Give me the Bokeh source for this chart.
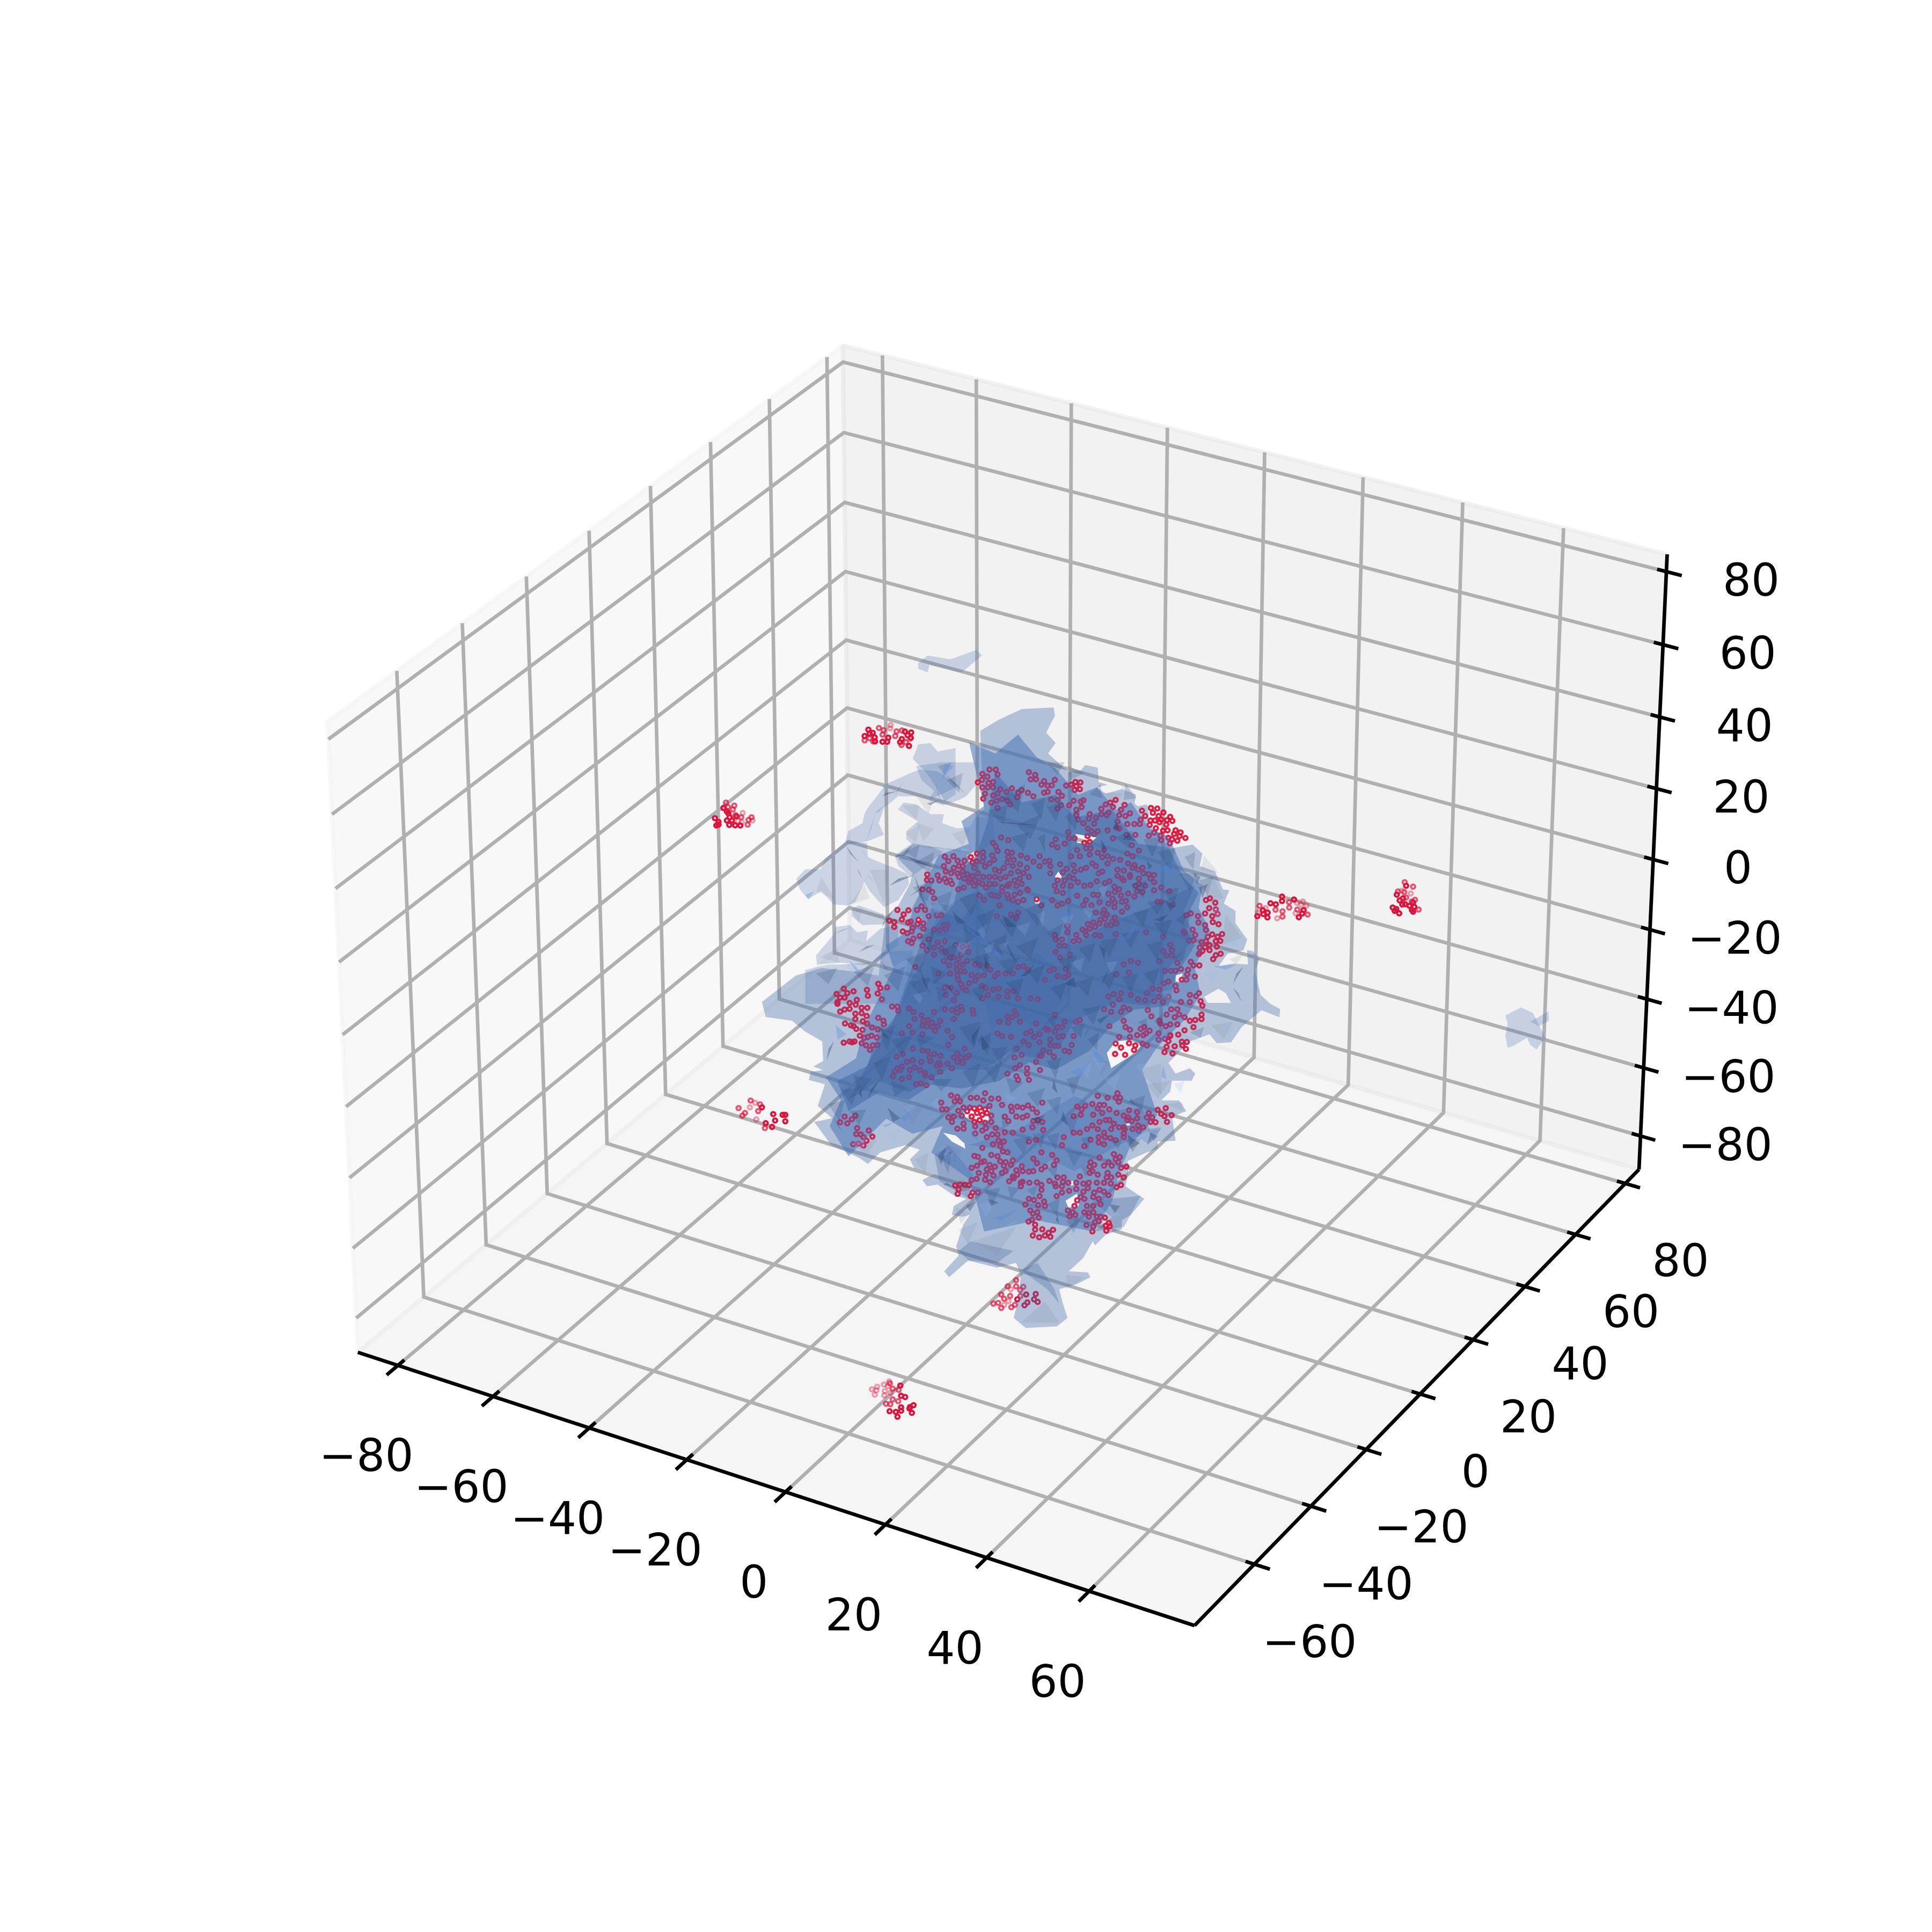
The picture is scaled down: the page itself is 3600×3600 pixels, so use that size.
import numpy as np
from bokeh.plotting import figure
from bokeh.models import Range1d
from bokeh.core.properties import value
from bokeh.embed import file_html
from bokeh.resources import INLINE

# ---- axes values ----
XLIM = (-88.5, 80.3); YLIM = (-80.7, 85.6); ZLIM = (-89.9, 84.7)
XTICKS = [-80, -60, -40, -20, 0, 20, 40, 60]
YTICKS = [-60, -40, -20, 0, 20, 40, 60, 80]
ZTICKS = [-80, -60, -40, -20, 0, 20, 40, 60, 80]
ELEV, AZIM = 30.0, -60.0

# ---- reading frames: values below were read in these frames of the picture ----
FR = dict(A=(1500, 1420, 3, 3), B=(1950, 1420, 3, 3), C=(1500, 1870, 3, 3), D=(1950, 1870, 3, 3),
          Z1=(1300, 1200, 1.4255, 1.4255), Z2=(1500, 2000, 2.24, 2.24), Z3=(1280, 1180, 3, 3), Z4=(2300, 1600, 2.24, 3))

def fr(name, pts):
    x0, y0, sx, sy = FR[name]
    a = np.array(pts, dtype=float).reshape(-1, 2)
    return np.c_[x0 + a[:, 0] / sx, y0 + a[:, 1] / sy]

# ---- red points inside the cloud ----
CLOUD_A = [(990,65),(1018,80),(988,98),(965,112),(1050,110),(1025,115),(990,140),(1020,140),(1050,140),(1090,150),(1125,165),(1155,145),(1190,170),(1210,155),(1005,175),(1050,185),(1075,175),(995,203),(1040,225),(1070,215),(1100,205),(1130,215),(1145,235),(1075,255),(1030,40),(1065,40),(1075,68),(1250,55),(1285,70),(1260,95),(1290,95),(1335,105),(1320,125),(1335,170),(1245,170),(1275,190),(1185,195),
(1095,420),(1135,435),(1050,450),(1065,470),(1075,495),(1130,500),(1155,505),(1135,530),(1205,520),(1165,545),(1240,535),(1310,525),(1275,555),(1240,590),(1200,570),(1310,580),(1340,555),
(780,527),(828,525),(800,552),(852,550),(775,580),(830,590),(890,550),(960,510),(925,530),(958,553),(935,560),(993,502),(995,530),(990,555),(1045,520),(1055,545),(1030,565),(1005,583),(945,590),(880,580),(860,580),(785,610),(815,620),(850,620),(880,610),(905,625),(965,620),(935,635),(740,632),(780,650),(810,660),(750,660),(860,640),(890,650),(920,655),(950,660),(970,670),(820,680),(790,670),(855,710),(885,700),(915,670),(945,690),(990,680),(995,640),(1060,600),(1085,610),(1110,590),(1130,560),(1160,580),(1190,610),(1220,620),(1250,640),(1150,620),(1120,640),(1090,650),(1060,640),(1030,640),(1200,650),(1170,660),(1140,680),(1130,690),(1100,700),(1180,690),(1210,680),(1240,710),(1060,680),(1030,680),(1010,700),(1040,740),(1060,745),(1100,720),(1130,740),(1170,740),(1200,730),(1220,770),(1190,780),(1160,770),(1135,760),(1085,800),(1000,770),(975,745),(1080,750),(1070,860),(1180,870),(1150,850),(1190,840),(1293,765),(1320,800),(1245,715),(682,627),(680,658),(705,660),(655,710),(690,712),(710,725),(720,760),
(515,825),(577,827),(625,825),(550,850),(650,805),(670,825),(690,860),(735,855),(760,855),(470,885),(497,893),(497,920),(540,878),(575,895),(590,890),(633,880),(660,900),(628,905),(600,925),(545,945),(570,955),(595,945),(660,930),(720,935),(752,938),(775,910),(795,910),(785,932),(640,970),(605,985),(575,1000),(595,1010),(655,1025),(690,990),(720,1035),(740,1005),(780,1000),(680,1050),(760,1040),(720,1075),
(840,1020),(880,1030),(900,1020),(910,1060),(870,1075),(785,1060),(810,1090),(830,1090),(855,1100),(775,1110),(905,1110),(880,1130),(805,1135),(845,1130),(850,1160),(870,1165),(810,1180),(850,1190),(745,1180),(890,1170),(950,1130),(975,1135),(1015,1135),(930,1190),(965,1195),(1035,1160),(1077,1180),(1120,1180),(1160,1180),(1000,1190),(1060,1195),(1190,1145),(1245,1160),(1220,1140),(1340,1215),(950,1220),(915,1235),(985,1250),(855,1215),(870,1240),(880,1260),(780,1260),(815,1260),(845,1290),(900,1275),(785,1300),(830,1330),(1010,1260),(1050,1270),(1080,1265),(1130,1280),(1165,1280),(1020,1300),(1080,1310),(1130,1310),(990,1320),(1190,1320),(1260,1320),(1300,1325),(615,1145),
(215,1265),(175,1295),(270,1280),(235,1290),(195,1315),(220,1315),(345,1272),(420,1262),(458,1258),(408,1238),(405,1292),(350,1305),(428,1325),(180,1340),(288,1328),(248,1345)]

CLOUD_B = [(45,98),(28,128),(5,130),(65,165),(85,187),(108,130),(135,125),(160,110),(188,112),(165,133),(155,155),(185,150),(25,207),(60,210),(5,165),(80,240),(60,258),(150,215),(205,212),(190,220),(125,240),(195,250),(240,290),(275,310),(235,315),(205,340),(265,343),(305,260),(330,235),(355,225),(385,210),(370,250),(345,280),(305,290),(335,295),(415,265),(435,238),(465,285),(405,295),(440,300),(165,265),(165,295),(175,320),
(532,270),(582,255),(618,258),(593,282),(652,280),(625,300),(550,300),(640,320),(690,305),(702,327),(672,323),(668,348),(525,320),(580,325),(605,325),(630,335),(575,350),(720,380),(748,392),(712,400),(742,412),(775,423),(730,438),(700,430),(680,422),(688,453),(675,380),(650,382),(635,410),(640,435),(600,393),(610,368),(570,410),
(450,345),(490,345),(520,345),(395,330),(390,365),(340,380),(285,385),(230,370),(250,385),(265,400),(120,390),(155,425),(125,425),(228,412),(210,450),(240,445),(245,480),(220,480),(170,490),(240,515),(285,505),(320,490),(370,425),(405,370),(445,405),(495,405),(475,463),(515,493),(450,510),(480,525),
(50,430),(30,460),(60,475),(100,455),(135,525),(185,525),(15,550),(75,570),(20,580),(110,595),(150,575),(155,610),(125,640),(90,615),(150,650),(190,600),(220,590),(255,565),(275,580),(310,530),(340,525),(370,540),(340,565),(310,610),(290,620),(410,545),(395,600),(430,605),(455,565),(480,590),(490,575),(535,590),(510,600),(570,625),(600,630),(540,620),(465,630),(465,640),(515,650),(580,650),(600,670),(550,690),(515,680),(495,690),(430,660),(395,635),(420,650),(350,665),(325,675),(280,665),(245,685),(210,690),(175,670),(135,690),(100,660),(60,660),(20,620),(45,690),(90,690),(55,720),(90,730),(405,710),(378,695),(380,725),(455,733),(505,720),(535,725),(600,715),(640,700),(685,720),(490,750),(415,745),(345,735),(285,742),(260,740),
(205,797),(250,800),(295,782),(170,745),(220,770),(120,775),(85,790),(30,770),(60,800),(345,790),(380,785),(368,763),(378,810),(420,780),(443,775),(450,810),(420,835),(620,780),(640,780),(705,795),
(890,770),(912,760),(942,785),(908,815),(885,845),(945,822),(955,848),(925,860),(928,893),(960,905),(848,895),(845,860),(805,845),(780,855),(885,910),(890,937),
(765,945),(770,955),(815,935),(830,965),(795,997),(820,995),(900,975),(925,962),(980,960),(955,975),(945,1000),(970,998),(865,1005),(890,1000),(910,1022),(855,1035),(885,1033),(950,1030),(855,1065),(870,1055),(910,1050),(945,1078),(972,1070),(930,1100),(850,1072),
(320,825),(275,840),(315,845),(335,850),(380,868),(325,875),(300,880),(365,890),(390,900),(360,910),(335,910),(295,900),(260,895),(270,920),(230,905),(240,930),(200,935),(215,945),(165,965),(115,950),(115,915),(270,965),(300,970),(385,960),(220,965),(45,965),(85,990),(50,990),(100,1025),(70,1025),(180,995),(150,1000),(130,1075),(50,1060),(75,1090),(555,950),(650,975),
(690,1020),(700,1050),(650,1055),(670,1080),(700,1080),(430,1130),(390,1185),(460,1175),(470,1110),(510,1120),(630,1110),(730,1120),(805,1115),(820,1135),(853,1135),(750,1155),(720,1165),(695,1165),(790,1160),(785,1185),(828,1197),(755,1215),(780,1215),(660,1165),(60,1195),(98,1200),(122,1187),(40,1155),(105,1155),(15,1165),(720,1250),(725,1275),(680,1225),(655,1235),(630,1270),(590,1265),(560,1290),(625,1310),(680,1310),(800,1300),(850,1290),(835,1307),(860,1335),(800,1340),(750,1340),(650,1340),(600,1335),(550,1330),(510,1325),(470,1300),(415,1290),(375,1295),(345,1310),(405,1325)]

CLOUD_C = [(180,0),(195,43),(220,32),(248,28),(282,5),(315,22),(347,22),(280,55),(315,52),(343,68),(222,110),(280,85),(322,97),(345,110),(255,120),(270,125),(373,132),(405,143),(285,140),(320,145),(305,178),(370,178),(350,185),(400,188),(330,190),(215,217),(248,210),(275,210),(262,215),(315,220),(340,232),(378,232),(403,230),(362,257),(408,78),(437,95),(440,115),(485,15),(520,40),(515,15),
(580,25),(605,45),(650,65),(720,45),(660,95),(685,90),(710,105),(655,120),(680,125),(710,130),(740,125),(725,150),(655,170),(610,85),(580,125),(540,165),(600,160),(755,95),(780,30),(820,35),(850,25),(870,15),(935,35),(940,55),(875,35),(830,85),(850,50),(795,150),(820,185),(800,230),(890,250),
(545,280),(510,295),(600,250),(655,260),(685,265),(720,280),(755,290),(695,300),(648,325),(600,315),(570,325),(540,350),(515,360),(500,378),(530,370),(610,355),(585,370),(640,370),(670,385),(705,410),(700,320),(745,330),(755,340),(735,345),(755,380),(820,360),(795,335),(850,280),(830,300),(870,300),(900,300),(915,290),(850,325),(880,330),(620,450),(645,445),(677,455),(540,420),(580,410),(670,400),(490,405),
(1170,40),(1180,60),(1200,100),(1155,75),(1130,70),(1085,100),(1135,105),(1290,110),(1075,165),(1260,155),(1235,165),(1310,170),(1345,140),(1280,185),(1100,180),(1150,185),(1220,210),(1250,230),(1310,215),(1330,260),(1210,285),(1180,250),(1170,300),(1320,290),(1290,325),(1310,290),(1200,342),(1173,360),(1240,360),(1312,370),(1240,390),(1180,405),(1190,425),(1250,425),(1130,390),
(815,512),(850,520),(925,525),(760,552),(765,590),(790,590),(835,545),(865,545),(960,525),(1005,500),(995,540),(1040,530),(1080,530),(1100,565),(855,598),(885,580),(920,580),(945,585),(975,580),(1005,590),(1030,570),(875,625),(905,600),(930,630),(960,610),(990,620),(1015,610),(1040,625),(800,635),(830,630),(820,660),(885,670),(945,660),(975,650),(1005,665),(1040,660),(950,685),(850,698),(885,698),(950,725),(990,708),(1010,695),(1065,695),(1115,718),(1015,745),(1045,730),(1075,730),(1110,770),(1090,795),(1050,785),(1080,765),
(1150,575),(1185,575),(1215,580),(1245,568),(1270,587),(1155,600),(1180,630),(1240,625),(1215,635),(1295,608),(1325,552),(1135,655),(1115,630),(1160,720),(1215,703),(1275,655),(1330,705),(1300,650),(1325,660),(1270,690),(1250,770),(1290,760),
(990,805),(1040,845),(945,850),(965,855),(1075,852),(1105,825),(1130,830),(985,885),(960,905),(930,917),(1000,880),(1030,900),(1060,910),(1090,880),(1120,885),(1160,875),(1110,905),(1150,900),(1275,865),(1320,830),(1295,890),(1340,910),(1320,925),(1040,935),(1015,925),(970,945),(1120,935),(1100,945),(1180,930),(1210,908),(1215,935),(1250,938),(1275,935),(1185,955),(1160,965),(1010,955),(1052,960),(930,985),(958,978),(1005,983),(1033,997),(1140,992),(1165,975),(1205,1000),(1215,995),(1253,1000),(1295,998),(1320,1012),
(838,1015),(865,1010),(893,1012),(915,1013),(857,1037),(852,1062),(935,1055),(965,1055),(925,1075),(1205,1020),(1320,1040),
(1250,1090),(1278,1097),(1310,1075),(1335,1105),(1230,1122),(1302,1125),(1258,1155),(1273,1172),(1297,1165),(1340,1130),(1248,1217),(1268,1207),(1305,1195),(1285,1235),(1325,1260),(1285,1262),(1272,1295),(1308,1305),(1340,1295),
(220,630),(195,662),(235,668),(260,645),(280,625),(290,695),(310,730),(325,745),(342,765),(355,708),(375,742),(268,785),(298,782),(325,792),(285,728)]

CLOUD_D = [(45,60),(100,100),(60,130),(45,155),(85,130),(8,145),(65,185),(90,180),(20,200),(45,235),(65,235),(20,230),(15,270),(140,230),(100,262),(125,268),(40,295),(150,180),(185,90),(165,100),
(320,30),(360,45),(350,125),(405,185),(430,20),(370,5),(460,30),(415,45),(430,95),(465,145),(440,130),(505,175),(525,140),(545,130),(575,150),(555,165),(540,175),(465,185),(460,220),(385,222),(415,245),(382,280),(438,285),(495,233),(488,258),(535,222),(560,232),(585,70),(565,35),(630,95),(635,110),(665,125),(690,115),(730,115),(735,172),(690,175),(660,195),(680,208),(690,180),(625,165),(625,200),(670,240),(658,270),(703,277),(715,237),(755,212),(783,213),(758,232),(778,252),(820,130),(770,148),(830,90),(865,60),(865,85),(800,95),(740,60),(715,75),(670,60),(695,30),(730,30),(770,75),(870,10),
(285,515),(395,500),(385,525),(410,525),(403,547),(340,525),(320,565),(255,560),(170,575),(215,570),(295,565),(285,585),(195,590),(310,610),(350,590),(390,610),(260,620),(190,620),(150,628),(460,595),(505,605),(570,610),(620,593),(665,583),(640,615),(658,628),(698,622),(672,660),(608,662),(580,660),(590,635),(560,635),(505,640),(455,635),(430,625),(450,650),(475,655),(510,680),(540,690),(515,710),(430,690),(480,700),(405,690),(435,700),(430,725),(430,745),(295,660),(255,680),(225,700),(285,700),(330,650),(350,650),(375,670),(360,700),(320,720),(290,745),(325,745),(355,750),(385,762),(245,760),(185,720),(150,720),(95,745),(320,785),(290,775),(210,795),(85,790),
(30,845),(55,875),(40,900),(295,860),(345,885),(375,840),(385,868),(408,857),(400,885),(363,905),(415,917),(445,910),(245,885),(265,900),(320,905),(240,910),(340,945),(255,935),(400,955),(430,970),(360,970),(285,955),(335,970),(240,945),(185,965),(95,970),(60,970),(15,990),(45,1005),(90,995),(120,1000),(165,1000),(50,1020),(85,1020),(205,1005),(235,1000),(280,1000),(320,1000),(358,1005),(415,1013),(390,1025),(125,1045),(55,1075),(85,1055),(165,1035),(205,1050),(265,1055),(295,1040),(320,1050),(230,1030),(345,1070),(190,1080),(210,1090),(170,1098),(225,1130),(155,1130),(260,1080),(290,1090),(260,1130),(300,1120),(118,1155),(145,1165),(160,1180),(128,1188),(210,1165),(235,1170),(260,1165),(235,1190),(280,1190),(300,1190),(325,1195),(270,1220),(290,1215),(222,1237),(260,1245),(255,1272),(347,1225),(330,1240),(352,1243),(333,1268),(35,1263),(10,1280),(20,1302)]

# ---- red outlier clusters: frame, near, middle, far ----
OUTLIERS = [
 ("Z3", [(1013,537),(1020,560),(1037,555),(992,573),(1048,580),(1050,603),(1092,605),(1118,605),(1124,582),(1217,548),(1252,553),(1232,568),(1250,583),(1200,590),(1190,607),(1240,628)],
  [(992,597),(1020,585),(1040,603),(1092,565),(1072,528),(1098,540),(1170,547),(1163,573),(1200,542),(1222,607),(1198,623)], [(1137,512),(1135,530),(1245,590)]),
 ("Z3", [(203,975),(155,1032),(175,1053),(163,1073),(175,1068),(222,1045),(230,1005),(222,995),(275,1022),(250,1045),(237,1027),(235,1070),(268,1072),(297,1073)],
  [(217,945),(263,962),(228,970),(255,983),(338,1068),(343,1042),(360,1027),(270,1015),(302,1027)], [(310,1003),(283,1048),(305,1055),(365,1045)]),
 ("Z4", [(198,210),(198,235),(150,248),(172,254),(118,287),(120,308),(138,300),(95,320),(137,327),(288,286),(282,305),(268,326),(248,227)],
  [(227,242),(104,262),(171,284),(228,272),(200,293),(305,311),(200,322),(262,283)], [(129,275),(98,300),(260,245),(285,238),(278,255),(300,260),(255,303),(178,332)]),
 ("Z4", [(677,200),(716,150),(689,232),(703,220),(712,253),(745,243),(730,262),(750,268),(660,272),(675,280),(668,290),(687,304),(740,285),(745,295),(700,255)],
  [(710,130),(745,155),(682,182),(708,185),(716,216),(753,228),(740,238),(768,283)], [(698,178),(735,193)]),
 ("Z2", [(885,942),(922,922),(915,967),(927,955),(962,920),(955,942),(970,953)],
  [(880,862),(910,890),(897,903),(880,888),(845,888),(818,922),(855,928),(898,928),(805,957),(785,960),(875,965),(860,975),(818,978),(830,940)], [(858,900),(848,950),(830,965)]),
 ("Z2", [(397,1302),(400,1345),(417,1350),(352,1409),(378,1412),(400,1393),(400,1407),(385,1432),(437,1392),(435,1398),(452,1384),(445,1416)],
  [(353,1293),(390,1320),(365,1315),(388,1367),(365,1360),(337,1378),(355,1380)], [(350,1285),(328,1298),(300,1307),(278,1318),(297,1322),(290,1340),(332,1325),(330,1343),(355,1333),(345,1305)]),
 ("Z1", [(232,1250),(225,1250),(200,1248),(205,1265),(180,1272),(197,1282),(232,1267),(170,1230)],
  [(165,1222),(160,1240),(118,1252),(178,1285),(108,1232),(125,1245),(140,1212)], [(152,1218),(138,1230),(155,1262)]),
]

# ---- outline of the blue surface, as read piece by piece ----
BODY = [("A",[(1000,260),(985,0)]),
 ("Z1",[(750,230),(800,200),(860,172),(945,168),(948,190),(925,235),(950,262),(930,290),(985,340)]),
 ("B",[(190,45),(215,15),(285,30),(290,110),(340,125),(280,140),(330,175),(420,150),(500,180),(490,230),(510,245),(560,235),(570,290),(560,350),(620,380),(650,440),(700,480),(815,460),(870,510),(855,580),(940,610),(985,710),(1020,715),(990,790),(1055,830),(1055,900),(1120,990),(1100,1050),(1010,1070),(960,1140),(1040,1125),(1125,1130),(1120,1050),(1150,1055),(1190,1100),(1165,1160),(1195,1300),(1250,1350)]),
 ("D",[(1305,30),(1300,75),(1200,35),(1090,130),(1030,215),(950,220),(910,170),(800,210),(680,330),(720,390),(800,360),(830,390),(810,430),(700,430),(690,490),(640,540),(740,540),(780,600),(700,630),(720,765),(620,770),(620,810),(560,830),(450,880),(460,910),(440,1020),(545,1090),(470,1180),(420,1210),(420,1260),(330,1290),(270,1350)]),
 ("Z2",[(1200,700),(1160,770),(1100,825),(1180,830),(1190,850),(1130,880),(1060,900),(1075,960),(1095,1020),(1050,1055),(920,1062),(870,1020),(890,940),(900,840),(880,790),(800,810),(680,780),(600,850),(580,825),(640,760),(630,720)]),
 ("C",[(885,1230),(920,1180),(880,1190),(820,1180),(830,1130),(900,1090),(830,1070),(740,1010),(680,1020),(655,985),(720,950),(610,920),(585,870),(640,815),(560,790),(420,830),(350,895),(300,860),(145,790),(50,660),(150,640),(70,570),(110,450),(20,425),(30,380),(100,370),(45,350),(100,320),(95,210),(0,155)]),
 ("Z1",[(250,1000),(180,990),(170,950),(260,880),(330,860),(420,870),(480,880)]),
 ("A",[(450,860),(520,800),(585,680),(600,620),(520,540),(600,460),(780,480),(950,500),(960,300)])]

HOLES = [("A",[(905,520),(960,490),(965,545),(920,570)]), ("A",[(620,870),(650,865),(650,890),(620,905)]),
 ("B",[(45,640),(65,610),(85,640),(65,660)]), ("B",[(160,400),(280,420),(230,460),(170,450)]),
 ("C",[(880,610),(950,570),(1030,590),(1025,650),(960,670),(900,640)]),
 ("D",[(335,275),(385,210),(480,200),(530,230),(500,275),(440,310),(360,360)]),
 ("C",[(770,720),(840,735),(890,780),(895,810),(820,770)]), ("D",[(130,990),(150,990),(150,1015),(130,1015)]),
 ("D",[(105,1100),(170,1060),(180,1130),(120,1140)]), ("D",[(445,668),(465,668),(465,680),(445,680)]),
 ("D",[(315,1215),(365,1215),(365,1270),(320,1270)]), ("B",[(880,1310),(960,1265),(1000,1290),(1030,1345),(900,1345)]),
 ("B",[(720,1190),(760,1180),(750,1230),(720,1225)]), ("A",[(1280,760),(1310,755),(1310,790),(1285,790)])]

WISPS = [("A",[(640,40),(600,55),(510,95),(440,125),(430,150),(345,260),(330,290),(320,340),(240,385),(225,440),(240,460),(350,440),(440,405),(410,340),(440,255),(520,190),(620,190),(690,210),(780,170),(860,130),(740,50)]),
 ("A",[(520,260),(550,225),(620,235),(700,290),(775,290),(765,340),(850,370),(920,360),(950,310),(1050,300),(1060,450),(950,500),(880,480),(860,500),(780,480),(700,480),(600,460),(565,430),(565,385),(630,330),(520,265)]),
 ("A",[(-50,650),(0,598),(85,598),(110,540),(230,440),(345,450),(350,530),(420,560),(500,590),(572,625),(580,680),(520,770),(440,810),(360,720),(330,670),(280,780),(240,800),(160,795),(90,720),(15,765),(-30,710)]),
 ("A",[(260,820),(300,800),(440,850),(440,905),(320,910),(260,860)]),
 ("A",[(65,1130),(60,1080),(160,960),(170,920),(250,910),(290,950),(350,940),(340,1000),(420,930),(520,910),(520,1020),(420,1100),(330,1135),(200,1120)]),
 ("A",[(0,1160),(130,1130),(200,1130),(370,1120),(430,1060),(600,1050),(620,1350),(0,1350)]),
 ("A",[(620,20),(760,0),(950,0),(950,130),(900,190),(860,210),(770,240),(690,215),(720,160),(650,100)]),
 ("Z3",[(1290,620),(1360,612),(1400,660),(1500,640),(1500,900),(1440,940),(1400,870),(1330,770),(1260,700),(1280,650)]),
 ("A",[(500,520),(600,450),(700,470),(770,500),(650,600),(590,640),(520,580)]),
 ("Z1",[(585,50),(610,30),(670,40),(740,15),(755,30),(700,75),(615,55),(610,75),(585,65)]),
 ("Z4",[(1130,875),(1195,830),(1245,860),(1275,940),(1300,1010),(1285,1020),(1260,1065),(1235,1040),(1220,1000),(1165,1045),(1140,1055),(1130,990),(1140,920)]),
 ("Z4",[(1235,910),(1310,852),(1312,905),(1270,935)])]

CORES = [("Z1",[(720,260),(790,290),(850,240),(900,300),(950,330),(1010,400),(1060,380),(1110,440),(1150,420),(1200,490),(1250,510),(1290,600),(1340,640),(1330,700),(1360,760),(1320,860),(1335,930),(1290,1000),(1220,1070),(1180,1130),(1220,1250),(1150,1330),(1120,1400),(1100,1480),(1050,1560),(900,1530),(760,1560),(740,1480),(720,1420),(620,1350),(650,1280),(570,1300),(500,1260),(400,1360),(350,1280),(380,1210),(340,1150),(420,1100),(440,1020),(470,960),(520,860),(500,800),(560,760),(570,700),(600,640),(640,560),(720,530),(700,470),(760,430)]),
 ("Z1",[(790,340),(860,420),(950,400),(1000,460),(1100,440),(1170,530),(1250,540),(1290,620),(1330,660),(1290,740),(1320,800),(1270,880),(1250,960),(1160,970),(1100,1010),(1040,1080),(950,1130),(880,1110),(800,1160),(700,1180),(620,1170),(560,1210),(480,1190),(400,1240),(370,1160),(450,1120),(470,1060),(530,980),(560,900),(600,840),(620,760),(680,690),(700,600),(740,560),(770,470)]),
 ("Z1",[(620,700),(700,730),(780,640),(850,690),(900,720),(950,790),(1000,800),(1090,740),(1200,700),(1260,670),(1320,640),(1290,710),(1320,780),(1250,860),(1200,960),(1110,950),(1000,1000),(960,1070),(900,1100),(830,1080),(760,1130),(660,1130),(560,1190),(480,1160),(400,1210),(470,1080),(520,1000),(560,880),(590,800)]),
 ("Z1",[(1000,1200),(1090,1240),(1180,1230),(1200,1290),(1100,1340),(1000,1400),(940,1370),(880,1400),(800,1340),(720,1330),(850,1290),(930,1240)]),
 ("Z2",[(640,740),(690,700),(870,740),(800,790),(680,780)]), ("Z2",[(900,820),(970,790),(1040,900),(1060,960),(1010,900)]),
 ("Z2",[(540,340),(600,300),(700,420),(680,520),(560,450)]), ("Z2",[(1200,530),(1400,510),(1330,640),(1200,660),(1280,600)]),
 ("Z1",[(750,900),(830,860),(900,820),(950,860),(1000,900),(960,960),(900,1020),(840,990),(780,1020)]),
 ("A",[(700,780),(800,800),(950,720),(1010,860),(1000,1000),(880,940),(800,950),(700,1000),(730,880)])]

# ---- facets seen on the surface (three corners each) ----
DARK = [("A",[(500,190,550,105,520,150),(430,190,520,160,450,170),(470,690,610,630,520,650),(610,630,690,830,640,750),(580,750,700,680,620,720),(680,230,750,210,700,240),(730,120,760,230,740,170),(780,60,900,180,830,120),(230,470,300,560,250,510),(290,590,320,650,300,620),(350,630,380,670,360,640),(440,880,430,920,500,820),(300,1060,390,1020,340,1030),(160,960,260,920,200,940),(420,1110,470,1180,440,1130),(950,410,1060,300,990,370),(1060,330,1300,350,1150,345),(1120,1000,1190,1130,1150,1080),(500,530,600,460,560,520),(560,520,730,590,620,560),(640,1150,700,1300,660,1230),(1000,1080,1010,1180,1030,1130),(820,830,900,900,850,900),(1200,1200,1280,1130,1240,1190),(1100,850,1180,920,1130,920),(780,1240,830,1300,810,1250)]),
 ("B",[(170,460,120,500,150,480),(300,430,320,520,330,470),(560,550,590,580,570,600),(660,770,720,800,690,830),(850,700,900,680,870,760),(600,880,680,850,640,890),(290,1010,320,1100,330,1050),(300,1260,340,1160,330,1200),(1100,1140,1040,1240,1060,1180),(1040,1260,1090,1340,1070,1290),(390,330,410,380,370,370),(100,1240,170,1260,150,1200),(420,430,500,440,460,400),(820,620,840,680,860,640)]),
 ("C",[(130,250,160,210,120,320),(350,530,420,420,370,470),(300,505,320,530,310,480),(980,170,1030,240,990,260),(930,180,980,120,940,250),(770,1010,840,1030,790,1000),(740,850,790,800,760,900),(150,620,210,720,180,680),(1020,1090,1080,1110,1040,1130),(1270,640,1340,620,1300,680),(460,580,530,640,490,660),(420,120,470,200,430,180),(900,1130,960,1100,920,1160)]),
 ("D",[(40,420,60,500,30,470),(450,730,520,780,470,810),(620,740,560,790,580,720),(350,1120,410,1130,380,1170),(470,530,500,570,460,550),(210,180,240,130,220,170),(90,600,120,680,80,650),(60,1180,70,1230,50,1210),(280,90,350,60,300,110)])]
BLUE = [("A",[(390,290,340,440,370,370),(480,680,600,620,530,650),(310,490,370,560,330,510),(390,280,440,240,410,280),(0,740,50,720,20,765),(240,1100,330,1190,290,1180),(830,20,780,10,760,100),(880,900,1000,1000,930,960),(1040,1000,1100,1100,1060,1080)]),
 ("B",[(420,1000,500,900,470,980),(600,600,700,560,680,620),(80,850,160,830,120,880),(1150,1180,1190,1300,1160,1250),(930,1140,1060,1130,1000,1160)]),
 ("C",[(170,120,230,170,180,200),(530,640,600,590,560,660),(920,700,980,770,930,740),(1050,1200,1190,1150,1100,1210),(430,680,500,660,450,690)]),
 ("D",[(250,240,340,330,280,330),(480,720,640,700,560,780),(650,340,670,420,640,410),(600,200,700,140,640,220),(130,380,240,330,190,410)])]
GREY = [("A",[(540,240,640,240,620,320),(620,340,720,370,660,440),(560,400,640,350,620,450),(820,400,920,370,880,470),(90,640,170,770,60,720),(360,600,470,600,440,790),(240,800,330,680,360,760),(260,830,320,810,300,900),(80,1090,180,1040,190,1120),(620,190,720,200,690,290)]),
 ("B",[(880,520,960,620,860,600),(1000,850,1090,980,980,1020),(930,640,990,760,900,780),(300,170,420,170,380,260),(1020,1100,1100,1070,1060,1130)]),
 ("C",[(610,870,690,830,670,950),(540,560,660,570,600,680),(270,780,400,760,340,850),(840,1140,920,1170,870,1230),(780,780,880,820,830,880)]),
 ("D",[(520,370,640,330,640,510),(560,450,690,430,620,530),(920,120,1040,100,990,200),(280,290,360,330,300,400),(660,560,760,550,760,600)]),
 ("Z2",[(900,1040,1060,1040,1000,950),(700,700,880,640,800,760),(1090,900,1170,850,1090,840),(640,650,720,620,680,710)])]
MOTTLE_DARK = [("A",[(600,700,720,660,680,780),(720,760,820,720,790,840),(860,760,980,720,930,860),(960,860,1060,820,1010,960),(1080,880,1200,840,1160,980),(1230,820,1340,780,1300,920),(620,980,720,940,700,1060),(740,1060,860,1000,820,1120),(880,900,980,960,900,1010),(1020,1010,1130,960,1100,1080),(1180,1030,1300,980,1260,1100),(560,1100,680,1060,640,1180),(700,1140,800,1180,720,1240),(920,1100,1040,1060,1000,1170),(1080,1110,1200,1090,1140,1190),(1240,1170,1340,1130,1300,1240),(440,1190,560,1140,520,1280),(580,1230,700,1200,660,1320),(730,1250,800,1280,750,1340),(930,1270,1010,1240,980,1340),(1120,1230,1220,1210,1190,1310),(60,1180,180,1150,130,1240),(270,1170,390,1130,350,1250),(1100,200,1230,120,1190,280),(1260,230,1340,200,1320,320),(1180,350,1320,290,1260,430),(1020,270,1130,240,1110,350),(1150,420,1250,390,1220,500),(1300,420,1340,400,1340,500),(610,560,720,500,700,620),(560,500,640,460,620,540),(790,100,880,60,860,170),(740,20,820,0,780,70)]),
 ("B",[(0,250,90,220,50,330),(100,300,190,260,160,380),(300,120,240,180,310,200),(380,420,480,380,460,480),(540,430,640,420,590,530),(620,500,720,480,690,600),(740,620,840,620,800,720),(640,720,740,700,710,790),(560,780,660,770,620,850),(480,840,570,820,540,920),(600,900,700,880,660,980),(720,880,810,820,790,930),(420,960,520,940,470,1040),(300,1000,400,980,350,1090),(180,1040,270,1010,240,1120),(60,1100,170,1080,120,1180),(0,950,90,900,60,1010),(560,1020,640,1000,620,1110),(700,1100,780,1040,760,1110),(420,1200,510,1180,470,1290),(540,1180,630,1150,600,1250),(300,1200,400,1160,350,1270),(160,1230,260,1200,230,1310),(20,1260,110,1230,80,1330),(850,660,930,640,900,750),(770,530,830,500,820,600),(440,120,500,200,430,210),(0,0,100,0,60,70),(120,20,210,60,130,100),(470,680,560,660,540,760)]),
 ("C",[(400,150,500,120,460,260),(480,200,600,180,540,290),(620,170,720,190,640,240),(860,130,980,100,930,230),(960,200,1040,160,1020,290),(1040,250,1130,240,1090,340),(880,380,980,330,940,470),(1000,360,1100,330,1060,440),(1120,410,1220,440,1150,500),(380,330,480,290,430,430),(270,400,370,420,300,510),(200,480,300,470,260,570),(130,560,220,540,190,660),(480,430,570,470,500,520),(700,420,820,420,760,490),(250,600,340,590,300,680),(1240,500,1340,470,1300,580),(1100,620,1140,680,1100,700),(1160,760,1260,740,1220,840),(1270,730,1340,720,1320,810),(1130,1020,1200,1030,1150,1090),(880,980,920,1040,870,1050),(1000,1040,1090,1030,1050,1120),(760,860,820,820,800,950),(1240,1040,1300,1010,1280,1080)]),
 ("D",[(0,80,60,60,40,140),(200,30,300,10,260,120),(130,130,210,110,190,190),(230,200,290,160,280,260),(0,320,80,300,50,420),(110,420,190,400,150,510),(0,540,80,520,60,620),(100,640,180,620,140,730),(0,740,70,720,50,820),(190,750,250,740,230,820),(110,820,200,830,150,910),(0,920,60,900,50,980),(190,910,230,900,220,970),(510,100,560,80,560,150),(600,100,650,50,640,130),(800,160,880,130,860,190),(350,760,420,760,400,810),(440,760,530,750,480,830),(560,700,640,690,600,770),(470,540,550,510,530,600),(110,1210,190,1200,150,1280),(0,1120,70,1090,60,1190)])]
MOTTLE_LIGHT = [("A",[(830,1020,930,1000,880,1080),(1080,1020,1140,1000,1100,1060),(700,800,790,780,740,860),(1000,1040,1060,1000,1030,1090),(1180,920,1260,890,1230,970),(1290,850,1340,830,1330,920),(490,1140,570,1100,560,1190),(360,1160,440,1120,420,1220),(600,1300,680,1280,640,1350),(230,1130,300,1120,260,1200),(960,940,1020,900,1000,990)]),
 ("B",[(420,110,490,170,410,190),(290,700,340,690,320,760),(200,820,260,810,240,880),(80,870,150,850,120,930),(130,1120,210,1090,190,1170),(330,1120,400,1110,360,1180),(920,820,980,800,970,900),(1000,1000,1060,960,1080,1040),(880,1180,960,1170,930,1240),(640,1280,710,1270,680,1340)]),
 ("C",[(540,570,620,560,590,620),(700,560,740,520,750,610),(260,780,340,750,320,830),(770,830,830,840,790,900),(970,1120,1060,1110,1010,1190),(1100,1250,1180,1210,1160,1280),(470,720,530,700,500,770),(1110,490,1190,530,1130,550),(910,1240,980,1220,950,1300),(1040,1280,1110,1270,1070,1340)]),
 ("D",[(320,420,410,390,380,480),(260,300,330,310,300,380),(180,350,250,330,230,420),(970,120,1050,110,1020,190),(500,340,560,330,540,420),(570,430,640,400,630,480),(120,1250,190,1260,160,1330),(40,1290,120,1320,50,1350),(340,1130,420,1180,350,1190),(710,450,770,430,750,500)])]

# ---- projection of the axes box ----
def raw_proj(x, y, z):
    x, y, z = np.asarray(x, float), np.asarray(y, float), np.asarray(z, float)
    aspect = np.array([4, 4, 3.0])
    box = aspect * 1.8294640721620434 * 25 / 24 / np.linalg.norm(aspect)
    P = np.stack([(x - XLIM[0]) / (XLIM[1] - XLIM[0]), (y - YLIM[0]) / (YLIM[1] - YLIM[0]), (z - ZLIM[0]) / (ZLIM[1] - ZLIM[0])], -1) * box
    e, a = np.radians(ELEV), np.radians(AZIM)
    w = np.array([np.cos(e) * np.cos(a), np.cos(e) * np.sin(a), np.sin(e)])
    eye = box / 2 + 10 * w
    u = np.cross([0, 0, 1.0], w); u /= np.linalg.norm(u)
    v = np.cross(w, u)
    d = P - eye
    zv = d @ w
    return (d @ u) / -zv, (d @ v) / -zv

# pixel places of six box corners in the picture fix the scale of the view
CORNERS = [((XLIM[0], YLIM[0], ZLIM[0]), (664, 2517)), ((XLIM[0], YLIM[0], ZLIM[1]), (612, 1344)),
           ((XLIM[0], YLIM[1], ZLIM[1]), (1572, 642)), ((XLIM[1], YLIM[1], ZLIM[1]), (3105, 1032)),
           ((XLIM[1], YLIM[1], ZLIM[0]), (3053, 2181)), ((XLIM[1], YLIM[0], ZLIM[0]), (2225, 3030))]
rows, rhs = [], []
for (cx, cy, cz), (px, py) in CORNERS:
    rx, ry = raw_proj(cx, cy, cz)
    rows += [[float(rx), 1, 0], [-float(ry), 0, 1]]
    rhs += [px, py]
S, CX, CY = np.linalg.lstsq(np.array(rows), np.array(rhs, float), rcond=None)[0]

def proj(x, y, z):
    rx, ry = raw_proj(x, y, z)
    return S * rx + CX, CY - S * ry

def line3(pts):
    a = np.array(pts, float)
    return proj(a[:, 0], a[:, 1], a[:, 2])

# ---- figure ----
p = figure(width=3584, height=3584, x_range=Range1d(0, 3584), y_range=Range1d(3584, 0),
           output_backend="svg", toolbar_location=None, min_border=0, background_fill_color="white", border_fill_color="white")
p.axis.visible = False
p.grid.visible = False
p.outline_line_color = None

x0, x1 = XLIM; y0, y1 = YLIM; z0, z1 = ZLIM
panes = [([(x0,y0,z0),(x0,y1,z0),(x0,y1,z1),(x0,y0,z1)], (242,242,242)),
         ([(x0,y1,z0),(x1,y1,z0),(x1,y1,z1),(x0,y1,z1)], (230,230,230)),
         ([(x0,y0,z0),(x1,y0,z0),(x1,y1,z0),(x0,y1,z0)], (236,236,236))]
for pts, col in panes:
    px, py = line3(pts)
    p.patch(list(px), list(py), fill_color=col, fill_alpha=0.5, line_color=col, line_alpha=0.5, line_width=8)

gx, gy = [], []
for t in XTICKS:
    a, b = line3([(t, y0, z0), (t, y1, z0), (t, y1, z1)]); gx.append(list(a)); gy.append(list(b))
for t in YTICKS:
    a, b = line3([(x1, t, z0), (x0, t, z0), (x0, t, z1)]); gx.append(list(a)); gy.append(list(b))
for t in ZTICKS:
    a, b = line3([(x0, y0, t), (x0, y1, t), (x1, y1, t)]); gx.append(list(a)); gy.append(list(b))
p.multi_line(gx, gy, line_color="#b0b0b0", line_width=6.67, line_join="miter")

sx, sy = [], []
for pts in ([(x0,y0,z0),(x1,y0,z0)], [(x1,y0,z0),(x1,y1,z0)], [(x1,y1,z0),(x1,y1,z1)]):
    a, b = line3(pts); sx.append(list(a)); sy.append(list(b))
tx, ty = [], []
lab_x, lab_y, lab_t = [], [], []
for t in XTICKS:
    a, b = line3([(t, y0 - 3.5, z0), (t, y0 + 2, z0)]); tx.append(list(a)); ty.append(list(b))
    a, b = proj(t, y0, z0); lab_x.append(float(a) - 59); lab_y.append(float(b) + 166); lab_t.append(str(t).replace("-", "\u2212"))
for t in YTICKS:
    a, b = line3([(x1 + 3, t, z0), (x1 - 1.7, t, z0)]); tx.append(list(a)); ty.append(list(b))
    a, b = proj(x1, t, z0); lab_x.append(float(a) + 103); lab_y.append(float(b) + 142); lab_t.append(str(t).replace("-", "\u2212"))
for t in ZTICKS:
    a, b = line3([(x1 + 3, y1, t), (x1 - 1.8, y1, t)]); tx.append(list(a)); ty.append(list(b))
    a, b = proj(x1, y1, t); lab_x.append(float(a) + 158); lab_y.append(float(b) + 14); lab_t.append(str(t).replace("-", "\u2212"))
p.multi_line(sx, sy, line_color="black", line_width=6.67)
p.multi_line(tx, ty, line_color="black", line_width=6.67)
p.text(lab_x, lab_y, text=lab_t, text_font=value("DejaVu Sans"), text_font_size="83.33px", text_color="black",
       text_align="center", text_baseline="middle")

# ---- blue surface helpers ----
def inside(poly, pt):
    x, y = pt; c = False; n = len(poly)
    for i in range(n):
        x1_, y1_ = poly[i]; x2_, y2_ = poly[(i + 1) % n]
        if (y1_ > y) != (y2_ > y) and x < (x2_ - x1_) * (y - y1_) / (y2_ - y1_) + x1_:
            c = not c
    return c

holes_px = [fr(n, h) for n, h in HOLES]

def add_layer(polys, color, alpha):
    xs, ys = [], []
    for poly in polys:
        rx, ry = [list(poly[:, 0])], [list(poly[:, 1])]
        for h in holes_px:
            if all(inside(poly, q) for q in h):
                rx.append(list(h[:, 0])); ry.append(list(h[:, 1]))
        xs.append([rx]); ys.append([ry])
    p.multi_polygons(xs, ys, fill_color=color, fill_alpha=alpha, line_color=None)

def tris(group):
    out = []
    for name, items in group:
        for t in items:
            out.append(fr(name, [(t[0], t[1]), (t[2], t[3]), (t[4], t[5])]))
    return out

body = np.vstack([fr(n, s) for n, s in BODY])
wisps = [fr(n, s) for n, s in WISPS]
cores = [fr(n, s) for n, s in CORES]
BASE = "#4a70ad"

# outlying red clusters lie under everything
for name, near, mid, far in OUTLIERS:
    for pts, al in ((far, 0.4), (mid, 0.7), (near, 1.0)):
        q = fr(name, pts)
        p.scatter(q[:, 0], q[:, 1], size=7.8, line_width=3.9, line_color="#dc143c", line_alpha=al, fill_alpha=0)

# layers under the cloud points
add_layer([body], BASE, 0.24)
add_layer(wisps, BASE, 0.26)
add_layer(cores[:2], BASE, 0.34)
add_layer(cores[2:], "#3f649f", 0.30)
add_layer(tris(GREY), "#7f8794", 0.16)

# cloud points
for name, pts in (("A", CLOUD_A), ("B", CLOUD_B), ("C", CLOUD_C), ("D", CLOUD_D)):
    q = fr(name, pts)
    p.scatter(q[:, 0], q[:, 1], size=7.8, line_width=3.9, line_color="#dc143c", line_alpha=0.95, fill_alpha=0)

# layers over the cloud points
add_layer([body], BASE, 0.18)
add_layer(cores[:1], "#4a78c0", 0.30)
add_layer(cores[1:2], "#3f649f", 0.30)
add_layer(cores[2:3], "#3f649f", 0.22)
add_layer(tris(MOTTLE_LIGHT), "#9dbbea", 0.20)
add_layer(tris(MOTTLE_DARK), "#2a4170", 0.20)
add_layer(tris(BLUE), "#4f86e0", 0.30)
add_layer(tris(DARK), "#243a60", 0.34)

open("out.html", "w").write(file_html(p, INLINE))
